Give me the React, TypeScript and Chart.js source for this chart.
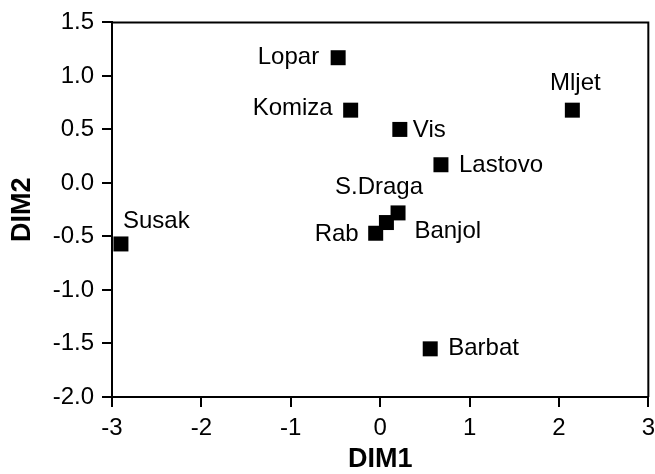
import React, { useEffect, useRef } from "react";
import { Chart, registerables } from "chart.js";

Chart.register(...registerables);

const siteNames = ["Lopar", "Komiza", "Vis", "Lastovo", "Mljet", "S.Draga", "Banjol", "Rab", "Susak", "Barbat"];
const dim1Values = [-0.47, -0.33, 0.22, 0.68, 2.15, 0.2, 0.07, -0.05, -2.9, 0.56];
const dim2Values = [1.17, 0.68, 0.5, 0.17, 0.68, -0.28, -0.37, -0.47, -0.57, -1.55];

// label placement relative to each marker (style only)
const labelStyle: { dx: number; dy: number; align: CanvasTextAlign }[] = [
  { dx: -19, dy: 0, align: "right" },
  { dx: -18, dy: -2, align: "right" },
  { dx: 13, dy: 1, align: "left" },
  { dx: 18, dy: 1, align: "left" },
  { dx: 3, dy: -27, align: "center" },
  { dx: -19, dy: -26, align: "center" },
  { dx: 28, dy: 9, align: "left" },
  { dx: -17, dy: 1, align: "right" },
  { dx: 2, dy: -23, align: "left" },
  { dx: 18, dy: 0, align: "left" },
];

const FONT = "'Liberation Sans', Arial, Helvetica, sans-serif";

const pointLabels = {
  id: "pointLabels",
  afterDatasetsDraw(chart: any) {
    const meta = chart.getDatasetMeta(0);
    const ctx = chart.ctx;
    ctx.save();
    ctx.font = `24px ${FONT}`;
    ctx.fillStyle = "#000";
    ctx.textBaseline = "middle";
    meta.data.forEach((el: any, i: number) => {
      const s = labelStyle[i];
      ctx.textAlign = s.align;
      ctx.fillText(siteNames[i], el.x + s.dx, el.y + s.dy);
    });
    ctx.restore();
  },
};

const frameBox = {
  id: "frameBox",
  afterDraw(chart: any) {
    const { left, right, top, bottom } = chart.chartArea;
    const ctx = chart.ctx;
    ctx.save();
    ctx.strokeStyle = "#000";
    ctx.lineWidth = 2;
    ctx.beginPath();
    ctx.moveTo(left, top);
    ctx.lineTo(right, top);
    ctx.lineTo(right, bottom);
    ctx.stroke();
    ctx.restore();
  },
};

export default function App() {
  const ref = useRef<HTMLCanvasElement>(null);
  useEffect(() => {
    if (!ref.current) return;
    const chart = new Chart(ref.current, {
      type: "scatter",
      data: {
        datasets: [
          {
            data: dim1Values.map((x, i) => ({ x, y: dim2Values[i] })),
            pointStyle: "rect",
            pointRadius: 10.6,
            pointHoverRadius: 10.6,
            backgroundColor: "#000",
            borderWidth: 0,
            clip: false,
          },
        ],
      },
      options: {
        responsive: false,
        animation: false,
        layout: { autoPadding: false, padding: { top: 22, right: 0, left: 0, bottom: 0 } },
        plugins: { legend: { display: false }, tooltip: { enabled: false } },
        scales: {
          x: {
            type: "linear",
            min: -3,
            max: 3,
            afterFit: (s: any) => {
              s.height = 77;
            },
            ticks: { stepSize: 1, color: "#000", font: { family: FONT, size: 24, lineHeight: 1.8 }, padding: 0 },
            grid: { drawOnChartArea: false, drawTicks: true, tickLength: 10, lineWidth: 2, color: "#000" },
            border: { display: true, width: 2, color: "#000" },
            title: {
              display: true,
              text: "DIM1",
              color: "#000",
              font: { family: FONT, size: 27, weight: "bold", lineHeight: 1.1 },
              padding: { top: 0, bottom: 0 },
            },
          },
          y: {
            type: "linear",
            min: -2,
            max: 1.5,
            afterFit: (s: any) => {
              s.width = 112;
            },
            ticks: {
              stepSize: 0.5,
              color: "#000",
              font: { family: FONT, size: 24 },
              padding: 8,
              callback: (v: any) => Number(v).toFixed(1),
            },
            grid: { drawOnChartArea: false, drawTicks: true, tickLength: 10, lineWidth: 2, color: "#000" },
            border: { display: true, width: 2, color: "#000" },
            title: {
              display: true,
              text: "DIM2",
              color: "#000",
              font: { family: FONT, size: 27, weight: "bold", lineHeight: 1.1 },
              padding: { top: 8, bottom: 0 },
            },
          },
        },
      },
      plugins: [pointLabels, frameBox],
    });
    return () => chart.destroy();
  }, []);
  return (
    <canvas
      ref={ref}
      width={655}
      height={474}
      style={{ position: "absolute", left: 0, top: 0, display: "block", background: "#fff" }}
    />
  );
}
